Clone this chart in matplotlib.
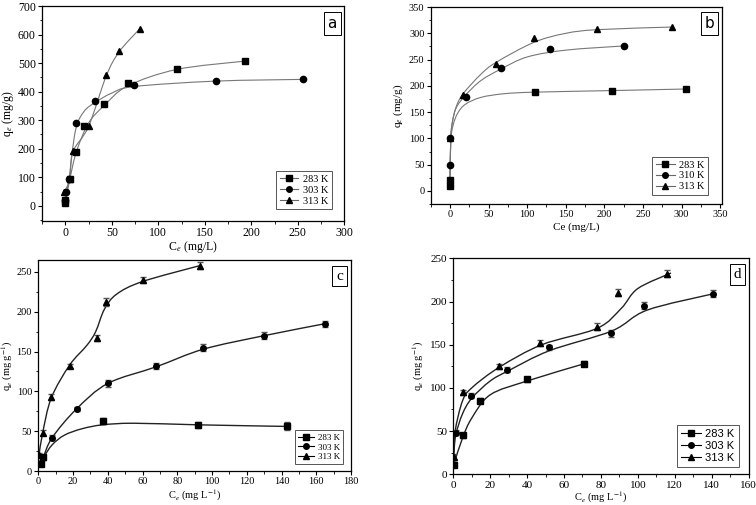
import numpy as np
import matplotlib.pyplot as plt
from matplotlib.path import Path
from matplotlib.patches import PathPatch
from matplotlib.ticker import AutoMinorLocator
from matplotlib.lines import Line2D

plt.rcParams['font.family'] = ['Liberation Serif', 'DejaVu Serif']
plt.rcParams['mathtext.fontset'] = 'stix'

LABELS_A = ["283 K", "303 K", "313 K"]
LABELS_B = ["283 K", "310 K", "313 K"]
MARKERS = ["s", "o", "^"]

# ---- panel a: measured points ----
a_x = [[0, 0, 5, 12, 20, 42, 67, 120, 193],
       [0, 1, 4, 11, 32, 74, 162, 256],
       [-1, 5, 8, 25, 44, 58, 80]]
a_y = [[10, 20, 95, 188, 280, 358, 432, 480, 507],
       [20, 48, 95, 290, 368, 425, 437, 443],
       [50, 95, 192, 278, 458, 543, 620]]
# panel a: fitted curves
a_fx = [[0, 5, 12, 25, 42, 67, 120, 193],
        [0, 4, 11, 20, 32, 50, 74, 162, 256],
        [-1, 5, 8, 25, 44, 58, 80]]
a_fy = [[10, 95, 190, 290, 352, 420, 478, 507],
        [20, 95, 265, 330, 362, 395, 418, 437, 443],
        [50, 95, 188, 278, 455, 540, 620]]

# ---- panel b ----
b_x = [[0, 0, 110, 210, 306],
       [0, 0, 21, 66, 129, 225],
       [0, 17, 59, 109, 191, 288]]
b_y = [[10, 20, 189, 190, 194],
       [50, 100, 179, 234, 271, 276],
       [100, 183, 241, 291, 309, 312]]
b_fx = [[0, 1, 4, 10, 20, 40, 70, 110, 210, 306],
        [0, 1, 3, 8, 20, 40, 66, 100, 150, 225],
        [0, 1, 3, 8, 17, 40, 60, 109, 150, 191, 288]]
b_fy = [[20, 95, 125, 148, 165, 178, 185, 188, 191, 194],
        [20, 100, 130, 158, 182, 210, 232, 255, 268, 276],
        [20, 100, 130, 160, 185, 222, 245, 283, 300, 307, 312]]

# ---- panel c ----
c_x = [[1.3, 2.8, 37, 92, 143],
       [1.3, 2.8, 8, 22, 40, 68, 95, 130, 165],
       [0.4, 2.5, 7.5, 18, 34, 39, 60, 93]]
c_y = [[9, 17, 63, 58, 57],
       [10, 17, 42, 78, 110, 132, 155, 170, 185],
       [20, 48, 93, 132, 167, 212, 240, 258]]
c_err = [[3, 3, 4, 4, 5],
         [3, 3, 3, 3, 4, 4, 4, 4, 4],
         [3, 3, 4, 3, 4, 5, 4, 4]]
c_fx = [[1.3, 3, 8, 15, 25, 37, 55, 92, 143],
        [1.3, 2.8, 8, 22, 40, 68, 95, 130, 165],
        [0.4, 2.5, 7.5, 18, 28, 33, 38, 45, 60, 93]]
c_fy = [[8, 17, 33, 45, 53, 58, 60, 58, 56],
        [10, 17, 42, 78, 110, 131, 153, 170, 185],
        [20, 48, 92, 133, 158, 175, 203, 222, 238, 258]]

# ---- panel d ----
d_x = [[0.2, 5.4, 14.6, 39.8, 70.7],
       [1.25, 9.8, 29.3, 51.8, 85.7, 103.4, 140.7],
       [0.3, 5.2, 24.6, 47.1, 77.9, 89.5, 115.9]]
d_y = [[11, 45, 85, 110, 128],
       [48, 91, 121, 147, 163, 195, 209],
       [20, 95, 125, 152, 171, 210, 232]]
d_err = [[3, 3, 3, 3, 3],
         [3, 3, 3, 3, 4, 4, 4],
         [3, 3, 3, 3, 4, 4, 4]]
d_fx = [[0.2, 5, 10, 20, 40, 71],
        [0.2, 1.3, 5, 10, 20, 30, 52, 86, 105, 141],
        [0.2, 1, 5, 10, 25, 48, 78, 91, 100, 118]]
d_fy = [[11, 42, 65, 92, 108, 128],
        [20, 45, 70, 88, 108, 120, 143, 166, 190, 209],
        [20, 50, 85, 100, 124, 150, 169, 192, 215, 233]]


def smooth_curve(ax, xs, ys, color, lw):
    # Catmull-Rom spline drawn as a cubic bezier path in data coordinates
    pts = np.column_stack([xs, ys]).astype(float)
    p = np.vstack([pts[0], pts, pts[-1]])
    verts = [tuple(pts[0])]
    codes = [Path.MOVETO]
    for i in range(1, len(p) - 2):
        p0, p1, p2, p3 = p[i - 1], p[i], p[i + 1], p[i + 2]
        c1 = p1 + (p2 - p0) / 6.0
        c2 = p2 - (p3 - p1) / 6.0
        verts += [tuple(c1), tuple(c2), tuple(p2)]
        codes += [Path.CURVE4] * 3
    ax.add_patch(PathPatch(Path(verts, codes), fill=False, edgecolor=color, lw=lw))


def style_axes(ax, tag, tag_font, tick_size):
    ax.xaxis.set_minor_locator(AutoMinorLocator(2))
    ax.yaxis.set_minor_locator(AutoMinorLocator(2))
    ax.tick_params(which='major', direction='out', length=3, width=0.8,
                   labelsize=tick_size, pad=1.5, top=False, right=False)
    ax.tick_params(which='minor', direction='out', length=1.8, width=0.6,
                   top=False, right=False)
    for s in ax.spines.values():
        s.set_linewidth(0.9)
    ax.text(0.975, 0.955, tag, transform=ax.transAxes, ha='right', va='top',
            fontsize=11, family=tag_font,
            bbox=dict(boxstyle='square,pad=0.25', fc='white', ec='black', lw=0.7))


def set_labels(ax, xl, yl, size, xpad, ypad):
    ax.set_xlabel(xl, fontsize=size, labelpad=xpad)
    ax.set_ylabel(yl, fontsize=size, labelpad=ypad)


def add_legend(ax, labels, line_color, font, size, loc_anchor):
    handles = [Line2D([], [], color=line_color, marker=m, ms=4, lw=0.8,
                      mfc='black', mec='black')
               for m in MARKERS]
    leg = ax.legend(handles, labels, loc='lower right', bbox_to_anchor=loc_anchor,
                    fancybox=False, framealpha=1, edgecolor='#555555',
                    prop={'family': font, 'size': size}, handlelength=1.8,
                    handletextpad=0.4, labelspacing=0.15, borderpad=0.35)
    leg.get_frame().set_linewidth(0.7)


fig = plt.figure(figsize=(7.56, 5.05), dpi=100)

# panel a
ax = fig.add_axes([0.0556, 0.5624, 0.400, 0.4257])
for i in range(3):
    smooth_curve(ax, a_fx[i], a_fy[i], '#777777', 0.8)
    ax.plot(a_x[i], a_y[i], ls='none', marker=MARKERS[i], ms=4.5, color='black')
ax.set_xlim(-25, 300)
ax.set_ylim(-53, 700)
ax.set_xticks(np.arange(0, 301, 50))
ax.set_yticks(np.arange(0, 701, 100))
style_axes(ax, 'a', 'DejaVu Sans', 8.5)
set_labels(ax, r'C$_e$ (mg/L)', r'q$_e$ (mg/g)', 8.5, 0, 1)
add_legend(ax, LABELS_A, '#666666', 'Liberation Serif', 7.5, (0.975, 0.03))

# panel b
ax = fig.add_axes([0.5697, 0.596, 0.385, 0.390])
for i in range(3):
    smooth_curve(ax, b_fx[i], b_fy[i], '#777777', 0.8)
    ax.plot(b_x[i], b_y[i], ls='none', marker=MARKERS[i], ms=4.5, color='black')
ax.set_xlim(-25, 352)
ax.set_ylim(-25, 350)
ax.set_xticks(np.arange(0, 351, 50))
ax.set_yticks(np.arange(0, 351, 50))
style_axes(ax, 'b', 'DejaVu Sans', 7.5)
set_labels(ax, 'Ce (mg/L)', r'q$_e$ (mg/g)', 8, 2, 3)
add_legend(ax, LABELS_B, '#666666', 'Liberation Serif', 7.5, (0.97, 0.02))

# panel c
ax = fig.add_axes([0.0507, 0.0673, 0.4136, 0.4178])
for i in range(3):
    smooth_curve(ax, c_fx[i], c_fy[i], '#222222', 1.0)
    ax.errorbar(c_x[i], c_y[i], yerr=c_err[i], ls='none', marker=MARKERS[i],
                ms=4, color='black', ecolor='#555555', elinewidth=0.7, capsize=2)
ax.set_xlim(0, 180)
ax.set_ylim(0, 265)
ax.set_xticks(np.arange(0, 181, 20))
ax.set_yticks(np.arange(0, 251, 50))
style_axes(ax, 'c', 'Liberation Serif', 7.5)
set_labels(ax, r'C$_e$ (mg L$^{-1}$)', r'q$_e$ (mg g$^{-1}$)', 7.5, 1, 1)
add_legend(ax, LABELS_A, 'black', 'Liberation Serif', 6.5, (0.99, 0.01))

# panel d
ax = fig.add_axes([0.5996, 0.0608, 0.3905, 0.4277])
for i in range(3):
    smooth_curve(ax, d_fx[i], d_fy[i], '#222222', 1.0)
    ax.errorbar(d_x[i], d_y[i], yerr=d_err[i], ls='none', marker=MARKERS[i],
                ms=4, color='black', ecolor='#555555', elinewidth=0.7, capsize=2)
ax.set_xlim(0, 160)
ax.set_ylim(0, 250)
ax.set_xticks(np.arange(0, 161, 20))
ax.set_yticks(np.arange(0, 251, 50))
style_axes(ax, 'd', 'Liberation Serif', 8)
set_labels(ax, r'C$_e$ (mg L$^{-1}$)', r'q$_e$ (mg g$^{-1}$)', 7.5, 0, 3)
add_legend(ax, LABELS_A, 'black', 'Liberation Sans', 8, (0.985, 0.01))

fig.savefig('out.png', dpi=100)
